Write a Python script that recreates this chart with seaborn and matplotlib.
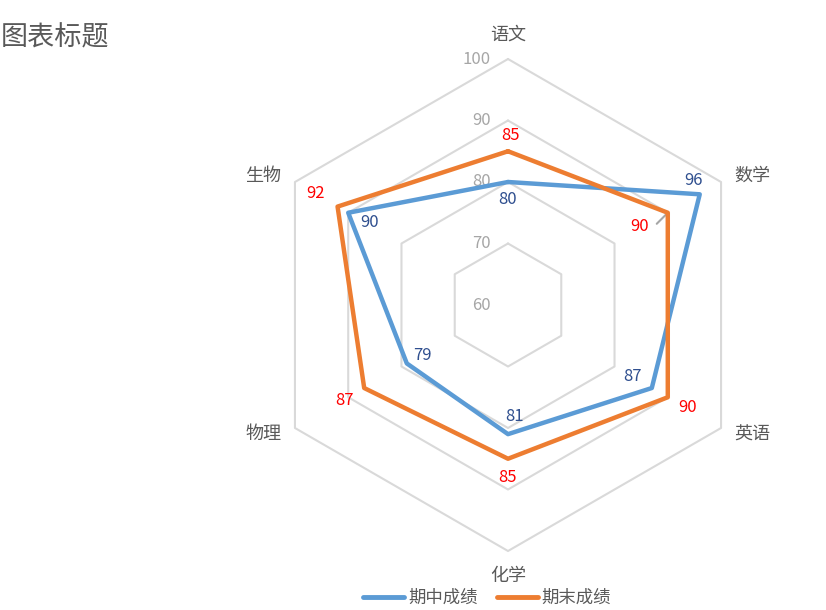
import numpy as np
import pandas as pd
import seaborn as sns
import matplotlib.pyplot as plt

# data
subjects = ['语文', '数学', '英语', '化学', '物理', '生物']
midterm = [80, 96, 87, 81, 79, 90]
final = [85, 90, 90, 85, 87, 92]
series_names = ['期中成绩', '期末成绩']
ring_values = [60, 70, 80, 90, 100]

R_MIN = 60
BLUE = '#5B9BD5'
ORANGE = '#ED7D31'
GRID = '#D9D9D9'

sns.set_theme(style='white')
plt.rcParams['font.family'] = ['Noto Sans CJK SC', 'DejaVu Sans']

angles = np.arange(len(subjects)) * 2 * np.pi / len(subjects)


def to_xy(values):
    r = np.asarray(values, dtype=float) - R_MIN
    return r * np.sin(angles), r * np.cos(angles)


rows = []
for name, vals in zip(series_names, [midterm, final]):
    x, y = to_xy(vals)
    for i in list(range(len(subjects))) + [0]:
        rows.append({'series': name, 'x': x[i], 'y': y[i]})
df = pd.DataFrame(rows)

fig = plt.figure(figsize=(8.26, 6.10), dpi=100)
ax = fig.add_axes([0, 0, 1, 1])
scale = 246 / 40.0  # px per unit
ax.set_xlim(-508 / scale, (826 - 508) / scale)
ax.set_ylim(-(610 - 305) / scale, 305 / scale)
ax.set_axis_off()

# hexagonal grid rings
for v in ring_values[1:]:
    gx, gy = to_xy([v] * len(subjects))
    ax.plot(np.append(gx, gx[0]), np.append(gy, gy[0]), color=GRID, lw=1.5, zorder=1)

# ring labels
for v in ring_values:
    ax.annotate(str(v), (0, v - R_MIN), xytext=(-17, 0), textcoords='offset pixels',
                ha='right', va='center', color='#A6A6A6', fontsize=12)

# category labels (top/bottom further out than the sides)
for a, s in zip(angles, subjects):
    sx, sy = np.sin(a), np.cos(a)
    if abs(sx) < 0.1:
        lx, ly = 0, 44.0 * np.sign(sy)
    else:
        lx, ly = 39.8 * np.sign(sx), 21.0 * np.sign(sy)
    ax.text(lx, ly, s, ha='center', va='center', color='#595959', fontsize=13)

sns.lineplot(data=df, x='x', y='y', hue='series', units='series', estimator=None,
             sort=False, palette=[BLUE, ORANGE], lw=3.2, ax=ax, legend=False, zorder=3)

# data labels (offsets in pixels)
mid_off = [(0, -18), (-6, 14), (-19, 12), (7, 18), (16, 8), (21, -10)]
fin_off = [(3, 16), (-28, -14), (20, -10), (0, -19), (-20, -12), (-22, 13)]
mx, my = to_xy(midterm)
fx, fy = to_xy(final)
for i in range(len(subjects)):
    ax.annotate(str(midterm[i]), (mx[i], my[i]), xytext=mid_off[i], textcoords='offset pixels',
                ha='center', va='center', color='#2F4F8F', fontsize=12, zorder=5)
    ax.annotate(str(final[i]), (fx[i], fy[i]), xytext=fin_off[i], textcoords='offset pixels',
                ha='center', va='center', color='#FF0000', fontsize=12, zorder=5)

# leader line for 数学 期末 label
ax.annotate('', (fx[1], fy[1]), xytext=(-13, -13), textcoords='offset pixels',
            arrowprops=dict(arrowstyle='-', color='#A6A6A6', lw=1.5,
                            connectionstyle='angle,angleA=0,angleB=45,rad=0'), zorder=2)

ax.plot([], [], color=BLUE, lw=3.5, label=series_names[0])
ax.plot([], [], color=ORANGE, lw=3.5, label=series_names[1])
fig.legend(loc='center', bbox_to_anchor=(487 / 826, 1 - 598 / 610), ncol=2, frameon=False,
           fontsize=12.5, handlelength=2.4, handletextpad=0.2, columnspacing=1.1,
           labelcolor='#595959')

fig.text(1 / 826, 1 - 38 / 610, '图表标题', ha='left', va='center', fontsize=19.5, color='#595959')

fig.savefig('out.png', dpi=100)
